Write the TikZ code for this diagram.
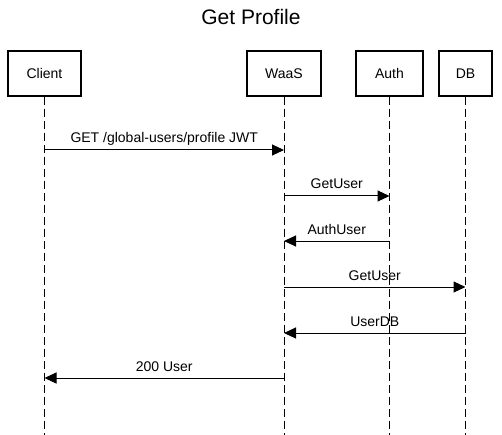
\documentclass[tikz,border=0pt]{standalone}
\usepackage{fontspec}
\setmainfont{Liberation Sans}
\usetikzlibrary{positioning,arrows.meta}

\begin{document}
\begin{tikzpicture}[x=1pt, y=-1pt, node distance=10pt,
  actor/.style={draw, line width=2pt, minimum height=45pt, inner sep=0pt, font=\fontsize{14}{16}\selectfont},
  life/.style={draw, line width=1pt, dash pattern=on 8pt off 4pt},
  msg/.style={-{Triangle[length=12pt,width=11pt]}, line width=1pt},
  lbl/.style={above, inner sep=2pt, outer sep=2pt, text depth=3pt, font=\fontsize{14}{16}\selectfont}]
\useasboundingbox (0,0) rectangle (502,435);
\node[anchor=base, font=\fontsize{21}{24}\selectfont] (title) at (251,25) {Get Profile};
%
\node[actor, minimum width=73pt]                      (client) at (44.5,73.5) {Client};
\node[actor, minimum width=74pt, right=164pt of client] (waas)   {WaaS};
\node[actor, minimum width=67pt, right=33pt of waas]    (auth)   {Auth};
\node[actor, minimum width=53pt, right=14pt of auth]    (db)     {DB};
%
\coordinate (bottom) at (0,435);
\coordinate (r1) at (0,150);
\coordinate (r2) at (0,196);
\coordinate (r3) at (0,241);
\coordinate (r4) at (0,287);
\coordinate (r5) at (0,333);
\coordinate (r6) at (0,378);
%
\path[life]
	(client) edge (client|-bottom)
	(waas)   edge (waas|-bottom)
	(auth)   edge (auth|-bottom)
	(db)     edge (db|-bottom)
;
%
\path[msg]
	(client|-r1) edge node[lbl] {GET /global-users/profile JWT} (waas|-r1)
	(waas|-r2)   edge node[lbl] {GetUser}  (auth|-r2)
	(auth|-r3)   edge node[lbl] {AuthUser} (waas|-r3)
	(waas|-r4)   edge node[lbl] {GetUser}  (db|-r4)
	(db|-r5)     edge node[lbl] {UserDB}   (waas|-r5)
	(waas|-r6)   edge node[lbl] {200 User} (client|-r6)
; %-messages-%
\end{tikzpicture}
\end{document}
